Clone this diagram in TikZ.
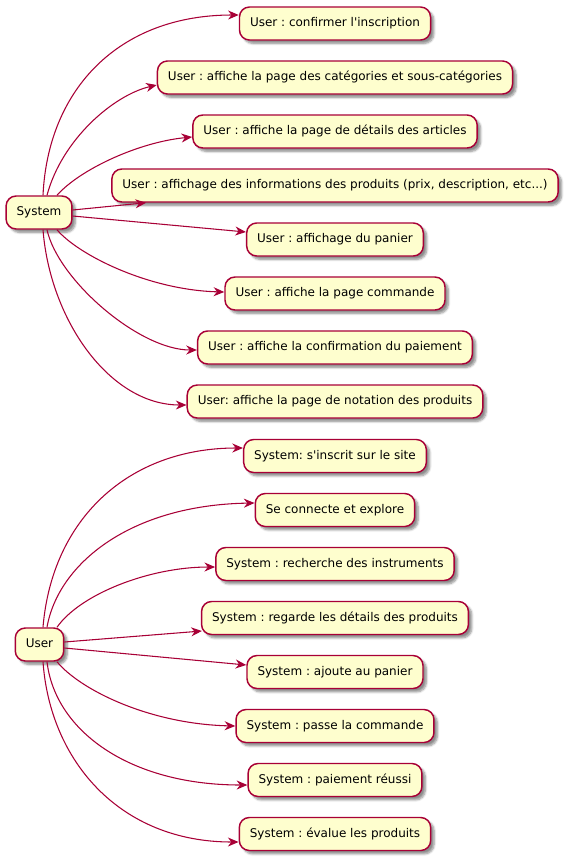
\documentclass[tikz,border=0pt]{standalone}
\usepackage{fontspec}
\setmainfont{DejaVu Sans}
\frenchspacing
\usetikzlibrary{arrows.meta,calc,shadows.blur}
\definecolor{umlred}{HTML}{A80036}
\definecolor{umlfill}{HTML}{FEFECE}
\tikzset{
  leaf/.style={draw=umlred, fill=umlfill, line width=1.1pt, rounded corners=7.5pt,
    minimum height=24.75pt, inner xsep=7.9pt, inner ysep=0pt,
    font=\fontsize{9}{11}\selectfont\frenchspacing, text height=6.9pt, text depth=1.9pt,
    blur shadow={shadow xshift=2.6pt, shadow yshift=-2.6pt, shadow blur steps=6, shadow blur radius=1.6pt, shadow opacity=45}},
  arr/.style={draw=umlred, line width=0.8pt, -{Stealth[length=8pt,width=6.75pt,inset=2.6pt]}}
}
\begin{document}
\begin{tikzpicture}[x=0.75pt,y=-0.75pt]
\useasboundingbox (0,0) rectangle (568,861);
% group 1
\node[leaf] (s) at (39,212.5) {System};
\node[leaf] (a1) at (335,23.5) {User : confirmer l\textquotesingle inscription};
\node[leaf] (a2) at (335,77.5) {User : affiche la page des catégories et sous-catégories};
\node[leaf] (a3) at (335,131.5) {User : affiche la page de détails des articles};
\node[leaf] (a4) at (335,185.5) {User : affichage des informations des produits (prix, description, etc...)};
\node[leaf] (a5) at (335,239.5) {User : affichage du panier};
\node[leaf] (a6) at (335,293.5) {User : affiche la page commande};
\node[leaf] (a7) at (335,347.5) {User : affiche la confirmation du paiement};
\node[leaf] (a8) at (335,401.5) {User: affiche la page de notation des produits};
% group 2
\node[leaf] (u) at (39.5,644.5) {User};
\node[leaf] (b1) at (335,456) {System: s\textquotesingle inscrit sur le site};
\node[leaf] (b2) at (335,510) {Se connecte et explore};
\node[leaf] (b3) at (335,564) {System : recherche des instruments};
\node[leaf] (b4) at (335,618) {System : regarde les détails des produits};
\node[leaf] (b5) at (335,672) {System : ajoute au panier};
\node[leaf] (b6) at (335,726) {System : passe la commande};
\node[leaf] (b7) at (335,780) {System : paiement réussi};
\node[leaf] (b8) at (335,834) {System : évalue les produits};
% edges group 1
\draw[arr] ($(s.north)+(4,0)$) .. controls +(5,-106) and +(-120,0) .. ($(a1.west)+(0,-8.5)$);
\draw[arr] ($(s.north)+(8,0)$) .. controls +(15,-56) and +(-43,10) .. ($(a2.west)+(0,7.5)$);
\draw[arr] ($(s.north)+(18,0)$) .. controls +(23,-26) and +(-53,5) .. ($(a3.west)+(0,5.5)$);
\draw[arr] ($(s.east)+(0,-2.5)$) -- ($(a4.south west)+(35,0)$);
\draw[arr] ($(s.east)+(0,3.5)$) -- ($(a5.west)+(0,-7.5)$);
\draw[arr] ($(s.south)+(18,0)$) .. controls +(21,25) and +(-76,-2) .. ($(a6.west)+(0,-1.5)$);
\draw[arr] ($(s.south)+(8,0)$) .. controls +(11,50) and +(-58,0) .. ($(a7.west)+(0,2.5)$);
\draw[arr] ($(s.south)+(4,0)$) .. controls +(7,90) and +(-77,0) .. ($(a8.west)+(0,3.5)$);
% edges group 2
\draw[arr] ($(u.north)+(3.5,0)$) .. controls +(9,-108) and +(-115,0) .. ($(b1.west)+(0,-8)$);
\draw[arr] ($(u.north)+(7.5,0)$) .. controls +(11,-63) and +(-125,2) .. ($(b2.west)+(0,-7)$);
\draw[arr] ($(u.north)+(17.5,0)$) .. controls +(23,-33) and +(-66,0) .. ($(b3.west)+(0,3)$);
\draw[arr] ($(u.east)+(0,-2.5)$) -- ($(b4.west)+(1,13)$);
\draw[arr] ($(u.east)+(0,3.5)$) -- ($(b5.west)+(0,-7)$);
\draw[arr] ($(u.south)+(17.5,0)$) .. controls +(23,28) and +(-86,-2) .. (b6.west);
\draw[arr] ($(u.south)+(7.5,0)$) .. controls +(8,69) and +(-118,0) .. ($(b7.west)+(0,5)$);
\draw[arr] ($(u.south)+(3.5,0)$) .. controls +(7,99) and +(-119,0) .. ($(b8.west)+(0,8)$);
\end{tikzpicture}
\end{document}
